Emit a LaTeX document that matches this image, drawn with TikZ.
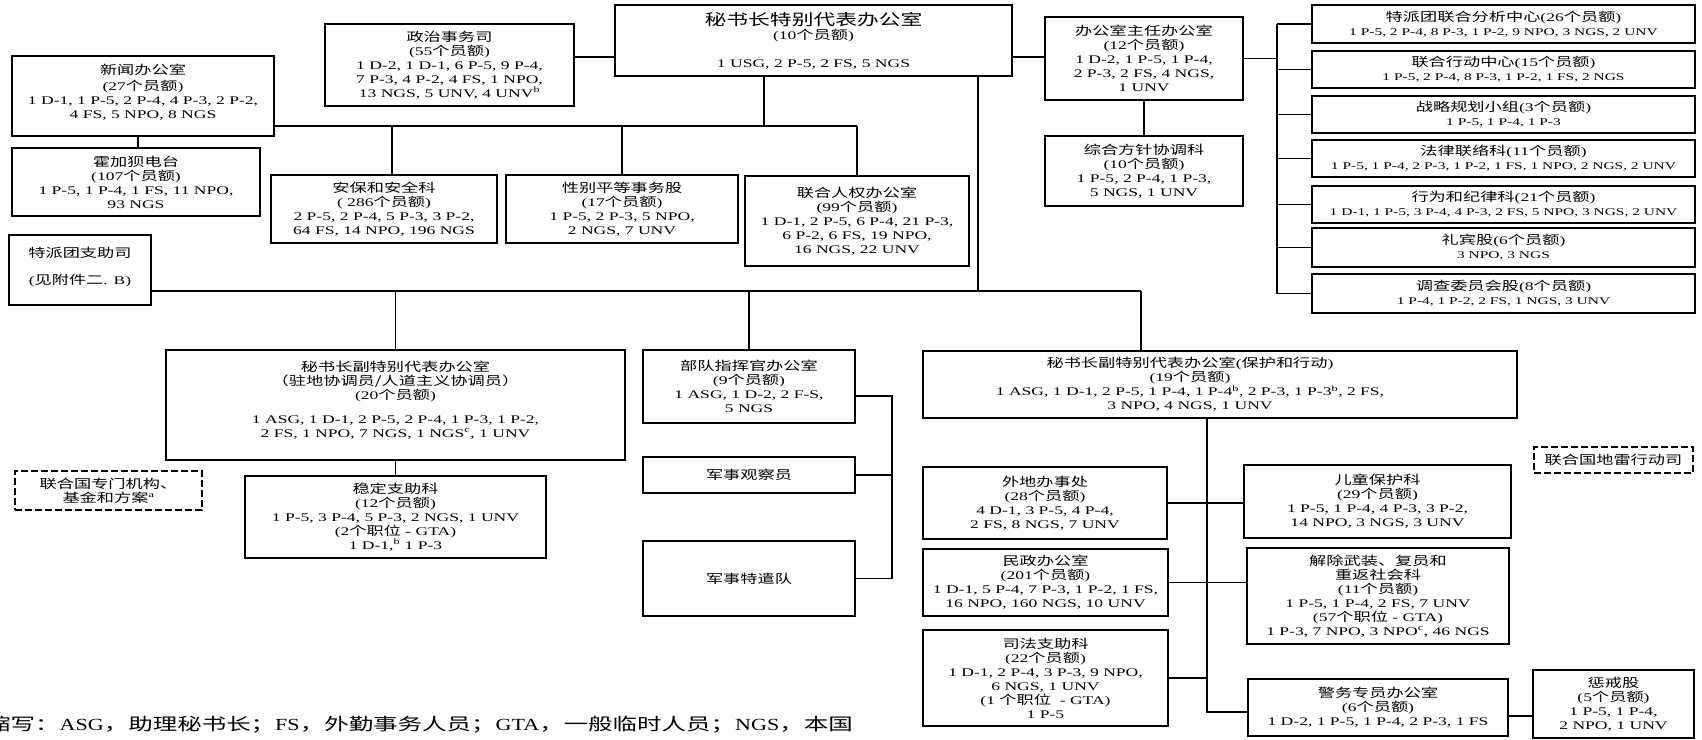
\documentclass[tikz,border=0pt]{standalone}
\usepackage{fontspec}
\setmainfont{Liberation Serif}[FakeStretch=1.5]
\newfontfamily\cjkf{Noto Sans CJK SC}[FakeStretch=1.4,Scale=1.05]
\newfontfamily\cjkfoot{Noto Sans CJK SC}[FakeStretch=1.44]
\newfontfamily\latfoot{Liberation Serif}[FakeStretch=1.3]
\newcommand\C[1]{{\cjkf #1}}
\newcommand\ye[1]{(#1\C{个员额})}
\newcommand\mainsz{\fontsize{11.7}{14}\selectfont\lineskiplimit=-100pt\lineskip=0pt}
\newcommand\titlesz{\fontsize{14.8}{17}\selectfont}
\newcommand\smallsz{\fontsize{10.3}{12.5}\selectfont}
\newcommand\FL[1]{{\latfoot\fontsize{17}{18}\selectfont #1}}
\newcommand\bx[7]{%
 \pgfmathsetmacro\bxw{#5-#3}%
 \pgfmathsetmacro\bxh{#6-#4}%
 \pgfmathsetmacro\bxx{(#3+#5)/2}%
 \pgfmathsetmacro\bxy{(#4+#6)/2}%
 \node[box,minimum width=\bxw pt,minimum height=\bxh pt,#1] (#2) at (\bxx,\bxy) {#7};}
\tikzset{
 box/.style={draw, line width=1.8pt, align=center, inner sep=0pt, font=\mainsz},
 boxtext/.style={align=center, inner sep=0pt, font=\mainsz},
 dbox/.style={dash pattern=on 7pt off 3pt, line width=2pt},
 conn/.style={line width=1.8pt}
}
\begin{document}
\begin{tikzpicture}[x=1pt,y=-1pt]
\useasboundingbox (0,0) rectangle (1702,739);
\fill[white] (0,0) rectangle (1702,739);

% top level
\bx{}{sg}{615}{5}{1012}{76}{{\titlesz\C{秘书长特别代表办公室}}\\\ye{10}\\[14pt]1 USG, 2 P-5, 2 FS, 5 NGS}
\bx{}{pol}{325}{24}{574}{106}{\C{政治事务司}\\\ye{55}\\1 D-2, 1 D-1, 6 P-5, 9 P-4,\\7 P-3, 4 P-2, 4 FS, 1 NPO,\\13 NGS, 5 UNV, 4 UNV\textsuperscript{b}}
\bx{}{cos}{1045}{17}{1243}{100}{\C{办公室主任办公室}\\\ye{12}\\1 D-2, 1 P-5, 1 P-4,\\2 P-3, 2 FS, 4 NGS,\\1 UNV}
\bx{}{ipc}{1045}{136}{1243}{206}{\C{综合方针协调科}\\\ye{10}\\1 P-5, 2 P-4, 1 P-3,\\5 NGS, 1 UNV}
\bx{}{pio}{12}{56}{274}{136}{\C{新闻办公室}\\[2pt]\ye{27}\\1 D-1, 1 P-5, 2 P-4, 4 P-3, 2 P-2,\\4 FS, 5 NPO, 8 NGS\\[-4pt]{}}
\bx{}{radio}{12}{148}{260}{216}{\C{霍加狈电台}\\\ye{107}\\1 P-5, 1 P-4, 1 FS, 11 NPO,\\93 NGS}
\bx{}{sec}{271}{175}{497}{243}{\C{安保和安全科}\\( 286\C{个员额})\\2 P-5, 2 P-4, 5 P-3, 3 P-2,\\64 FS, 14 NPO, 196 NGS}
\bx{}{gen}{506}{175}{738}{243}{\C{性别平等事务股}\\\ye{17}\\1 P-5, 2 P-3, 5 NPO,\\2 NGS, 7 UNV}
\bx{}{hr}{745}{176}{969}{266}{\C{联合人权办公室}\\\ye{99}\\1 D-1, 2 P-5, 6 P-4, 21 P-3,\\6 P-2, 6 FS, 19 NPO,\\16 NGS, 22 UNV}

% right column
\bx{}{ra}{1312}{5}{1695}{43}{\C{特派团联合分析中心}\ye{26}\\{\smallsz 1 P-5, 2 P-4, 8 P-3, 1 P-2, 9 NPO, 3 NGS, 2 UNV}}
\bx{}{rb}{1312}{51}{1695}{88}{\C{联合行动中心}\ye{15}\\{\smallsz 1 P-5, 2 P-4, 8 P-3, 1 P-2, 1 FS, 2 NGS}}
\bx{}{rc}{1312}{96}{1695}{133}{\C{战略规划小组}\ye{3}\\{\smallsz 1 P-5, 1 P-4, 1 P-3}}
\bx{}{rd}{1312}{140}{1695}{177}{\C{法律联络科}\ye{11}\\{\smallsz 1 P-5, 1 P-4, 2 P-3, 1 P-2, 1 FS, 1 NPO, 2 NGS, 2 UNV}}
\bx{}{re}{1312}{186}{1695}{223}{\C{行为和纪律科}\ye{21}\\{\smallsz 1 D-1, 1 P-5, 3 P-4, 4 P-3, 2 FS, 5 NPO, 3 NGS, 2 UNV}}
\bx{}{rf}{1312}{228}{1695}{267}{\C{礼宾股}\ye{6}\\{\smallsz 3 NPO, 3 NGS}}
\bx{}{rg}{1312}{274}{1695}{313}{\C{调查委员会股}\ye{8}\\{\smallsz 1 P-4, 1 P-2, 2 FS, 1 NGS, 3 UNV}}

% second level
\bx{}{msd}{9}{235}{151}{305}{\C{特派团支助司}\\[13pt](\C{见附件二}. B)\\[-6pt]{}}
\bx{}{dsrsg}{166}{350}{625}{460}{\C{秘书长副特别代表办公室}\\\C{（驻地协调员/人道主义协调员）}\\\ye{20}\\[10pt]1 ASG, 1 D-1, 2 P-5, 2 P-4, 1 P-3, 1 P-2,\\2 FS, 1 NPO, 7 NGS, 1 NGS\textsuperscript{c}, 1 UNV\\[-2pt]{}}
\bx{}{stab}{245}{476}{546}{558}{\C{稳定支助科}\\\ye{12}\\1 P-5, 3 P-4, 5 P-3, 2 NGS, 1 UNV\\(2\C{个职位} - GTA)\\1 D-1,\textsuperscript{b} 1 P-3}
\bx{dbox}{agencies}{15}{471}{202}{510}{\C{联合国专门机构、}\\\C{基金和方案}\textsuperscript{a}}
\bx{}{fc}{643}{350}{855}{423}{\C{部队指挥官办公室}\\\ye{9}\\1 ASG, 1 D-2, 2 F-S,\\5 NGS}
\bx{}{milobs}{643}{457}{855}{493}{\C{军事观察员}}
\bx{}{milcon}{643}{541}{855}{616}{\C{军事特遣队}}
\bx{}{dsrsgp}{923}{351}{1517}{418}{}
\node[boxtext] (dsrsgp-text) at ([xshift=-30pt]dsrsgp.center) {\C{秘书长副特别代表办公室}(\C{保护和行动})\\\ye{19}\\1 ASG, 1 D-1, 2 P-5, 1 P-4, 1 P-4\textsuperscript{b}, 2 P-3, 1 P-3\textsuperscript{b}, 2 FS,\\3 NPO, 4 NGS, 1 UNV};
\bx{dbox}{unmas}{1534}{447}{1693}{473}{\C{联合国地雷行动司}}
\bx{}{field}{923}{467}{1167}{539}{\C{外地办事处}\\\ye{28}\\4 D-1, 3 P-5, 4 P-4,\\2 FS, 8 NGS, 7 UNV}
\bx{}{civ}{923}{549}{1168}{616}{\C{民政办公室}\\\ye{201}\\1 D-1, 5 P-4, 7 P-3, 1 P-2, 1 FS,\\16 NPO, 160 NGS, 10 UNV}
\bx{}{jus}{923}{630}{1168}{726}{\C{司法支助科}\\\ye{22}\\1 D-1, 2 P-4, 3 P-3, 9 NPO,\\6 NGS, 1 UNV\\(1 \C{个职位}\ \ - GTA)\\1 P-5}
\bx{}{child}{1244}{465}{1511}{538}{\C{儿童保护科}\\\ye{29}\\1 P-5, 1 P-4, 4 P-3, 3 P-2,\\14 NPO, 3 NGS, 3 UNV}
\bx{}{ddr}{1247}{548}{1509}{644}{\C{解除武装、复员和}\\\C{重返社会科}\\\ye{11}\\1 P-5, 1 P-4, 2 FS, 7 UNV\\(57\C{个职位} - GTA)\\1 P-3, 7 NPO, 3 NPO\textsuperscript{c}, 46 NGS}
\bx{}{police}{1248}{679}{1508}{736}{\C{警务专员办公室}\\\ye{6}\\1 D-2, 1 P-5, 1 P-4, 2 P-3, 1 FS}
\bx{}{disc}{1533}{670}{1694}{738}{\C{惩戒股}\\\ye{5}\\1 P-5, 1 P-4,\\2 NPO, 1 UNV}

% footer
\node[anchor=base west, inner sep=0pt] (abbr) at (-14,730) {\fontsize{17}{18}\selectfont\cjkfoot 缩写：\FL{ASG}，助理秘书长；\FL{FS}，外勤事务人员；\FL{GTA}，一般临时人员；\FL{NGS}，本国};

% helper coordinates
\coordinate (yAB) at (0,57);
\coordinate (tb) at (764,126);
\coordinate (dE) at (392,0);
\coordinate (dN) at (138,0);
\coordinate (rbus) at (1277,0);
\coordinate (lb) at (0,291);
\coordinate (dA2) at (978,0);
\coordinate (dJ) at (1141,0);
\coordinate (mb) at (892,0);
\coordinate (yM) at (0,396);
\coordinate (jv) at (1207,0);
\coordinate (yT) at (0,712);
\coordinate (yTW) at (0,716);

% connectors
\draw[conn] (pol.east |- yAB) -- (sg.west |- yAB);
\draw[conn] (sg.east |- yAB) -- (cos.west |- yAB);
\draw[conn] (cos.south) -- (ipc.north);
\draw[conn] (cos.east) -- (cos.east -| rbus);
\draw[conn] (rbus |- ra.west) -- (rbus |- rg.west);
\foreach \r in {ra,rb,rc,rd,re,rf,rg}{\draw[conn] (rbus |- \r.west) -- (\r.west);}
\draw[conn] (sg.south -| tb) -- (tb);
\draw[conn] (pio.east |- tb) -- (hr.north |- tb);
\draw[conn] (dE |- tb) -- (dE |- sec.north);
\draw[conn] (gen.north |- tb) -- (gen.north);
\draw[conn] (hr.north |- tb) -- (hr.north);
\draw[conn] (dN |- pio.south) -- (dN |- radio.north);
\draw[conn] (msd.east |- lb) -- (dJ |- lb);
\draw[conn] (sg.south -| dA2) -- (dA2 |- lb);
\draw[conn] (dsrsg.north |- lb) -- (dsrsg.north);
\draw[conn] (fc.north |- lb) -- (fc.north);
\draw[conn] (dJ |- lb) -- (dJ |- dsrsgp.north);
\draw[conn] (dsrsg.south) -- (stab.north);
\draw[conn] (fc.east |- yM) -- (mb |- yM) -- (mb |- milcon.east) -- (milcon.east);
\draw[conn] (milobs.east) -- (milobs.east -| mb);
\draw[conn] (jv |- dsrsgp.south) -- (jv |- yT) -- (police.west |- yT);
\draw[conn] (field.east) -- (field.east -| child.west);
\draw[conn] (civ.east) -- (civ.east -| ddr.west);
\draw[conn] (jus.east) -- (jus.east -| jv);
\draw[conn] (police.east |- yTW) -- (disc.west |- yTW);
\end{tikzpicture}
\end{document}
